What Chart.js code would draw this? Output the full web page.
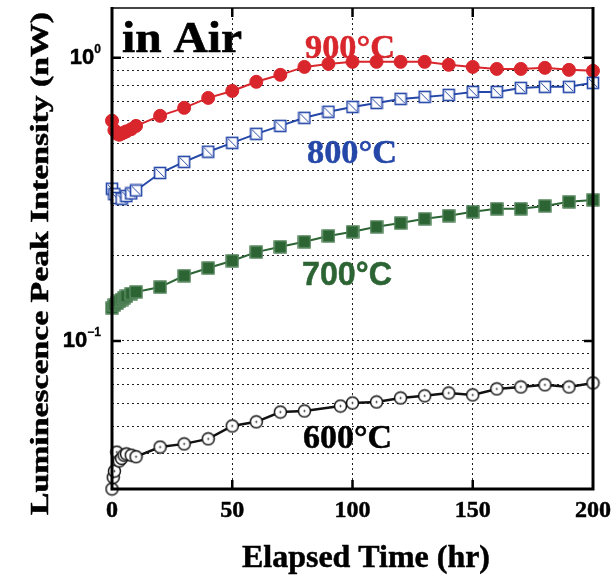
<!DOCTYPE html>
<html lang="en">
  <head>
    <meta charset="UTF-8" />
    <title>Luminescence Peak Intensity in Air</title>
    <script src="https://cdn.jsdelivr.net/npm/chart.js"></script>
    <style>
      html, body { margin: 0; padding: 0; background: #fff; }
    </style>
  </head>
  <body>
    <canvas id="lumChart" width="616" height="579"></canvas>

    <script>
      // data (hours, nW)
      const hours900 = [0, 1, 2, 3, 4, 5, 6, 8, 10, 20, 30, 40, 50, 60, 70, 80, 90, 100, 110, 120, 130, 140, 150, 160, 170, 180, 190, 200];
      const values900 = [0.60, 0.555, 0.54, 0.535, 0.54, 0.545, 0.55, 0.56, 0.575, 0.624, 0.666, 0.722, 0.764, 0.823, 0.871, 0.929, 0.952, 0.968, 0.968, 0.968, 0.968, 0.945, 0.929, 0.914, 0.914, 0.922, 0.907, 0.90];

      const hours800 = [0, 1, 2, 4, 6, 8, 10, 20, 30, 40, 50, 60, 70, 80, 90, 100, 110, 120, 130, 140, 150, 160, 170, 180, 190, 200];
      const values800 = [0.345, 0.33, 0.32, 0.318, 0.325, 0.332, 0.34, 0.392, 0.429, 0.466, 0.501, 0.539, 0.575, 0.614, 0.645, 0.671, 0.693, 0.716, 0.728, 0.740, 0.758, 0.758, 0.783, 0.790, 0.790, 0.816];

      const hours700 = [0, 1, 2, 3, 4, 5, 6, 8, 10, 20, 30, 40, 50, 60, 70, 80, 90, 100, 110, 120, 130, 140, 150, 160, 170, 180, 190, 200];
      const values700 = [0.131, 0.134, 0.136, 0.138, 0.140, 0.142, 0.144, 0.147, 0.149, 0.155, 0.170, 0.181, 0.192, 0.206, 0.215, 0.224, 0.235, 0.243, 0.253, 0.261, 0.270, 0.277, 0.286, 0.293, 0.293, 0.300, 0.310, 0.315];

      const hours600 = [0, 0.5, 1, 2, 3, 4, 5, 6, 8, 10, 20, 30, 40, 50, 60, 70, 80, 95, 100, 110, 120, 130, 140, 150, 160, 170, 180, 190, 200];
      const values600 = [0.030, 0.033, 0.0347, 0.0405, 0.0377, 0.0385, 0.0395, 0.0399, 0.0395, 0.039, 0.0422, 0.0433, 0.0451, 0.0501, 0.0518, 0.0561, 0.0566, 0.0589, 0.0604, 0.0609, 0.0629, 0.0640, 0.0655, 0.0645, 0.0677, 0.0688, 0.0700, 0.0688, 0.0711];

      const xTickLabels = [0, 50, 100, 150, 200];
      const xGridValues = [50, 100, 150];
      const yGridValues = [0.04, 0.05, 0.06, 0.07, 0.08, 0.09, 0.1, 0.2, 0.3, 0.4, 0.5, 0.6, 0.7, 0.8, 0.9, 1];
      const yMajorTicks = [{ value: 1, exp: "0" }, { value: 0.1, exp: "\u22121" }];

      const RED = "#d8262c";
      const BLUE = "#2547a8";
      const GREEN = "#2c6434";
      const BLACK = "#111111";
      const SERIF = "'Liberation Serif', 'DejaVu Serif', serif";
      const SANS = "'Liberation Sans', Arial, sans-serif";

      function pairs(xs, ys) {
        return xs.map((x, i) => ({ x: x, y: ys[i] }));
      }

      // little marker images
      function squareDiag() {
        const c = document.createElement("canvas");
        c.width = 14; c.height = 14;
        const g = c.getContext("2d");
        g.fillStyle = "#fff";
        g.fillRect(1, 1, 12, 12);
        g.strokeStyle = BLUE;
        g.lineWidth = 1.6;
        g.strokeRect(1.5, 1.5, 11, 11);
        g.lineWidth = 1;
        g.beginPath();
        g.moveTo(3, 3);
        g.lineTo(11, 11);
        g.stroke();
        return c;
      }

      function squareFilled() {
        const c = document.createElement("canvas");
        c.width = 14; c.height = 14;
        const g = c.getContext("2d");
        g.fillStyle = GREEN;
        g.fillRect(0.5, 0.5, 13, 13);
        g.strokeStyle = "#6e9a74";
        g.lineWidth = 1;
        g.strokeRect(1, 1, 12, 12);
        return c;
      }

      function circleDot() {
        const c = document.createElement("canvas");
        c.width = 15; c.height = 15;
        const g = c.getContext("2d");
        g.beginPath();
        g.arc(7.5, 7.5, 6, 0, Math.PI * 2);
        g.fillStyle = "#fff";
        g.fill();
        g.strokeStyle = BLACK;
        g.lineWidth = 1.5;
        g.stroke();
        g.beginPath();
        g.arc(7.5, 7.5, 0.9, 0, Math.PI * 2);
        g.fillStyle = BLACK;
        g.fill();
        return c;
      }

      // draw text stretched to a given width
      function fitText(ctx, text, font, left, baseline, width, heavy) {
        ctx.save();
        ctx.font = font;
        const w = ctx.measureText(text).width;
        ctx.translate(left, baseline);
        ctx.scale(width / w, 1);
        ctx.textAlign = "left";
        ctx.textBaseline = "alphabetic";
        ctx.fillText(text, 0, 0);
        if (heavy) {
          ctx.strokeStyle = ctx.fillStyle;
          ctx.lineWidth = heavy;
          ctx.strokeText(text, 0, 0);
        }
        ctx.restore();
      }

      const decorPlugin = {
        id: "decor",
        afterDraw(chart) {
          const ctx = chart.ctx;
          const area = chart.chartArea;
          const xs = chart.scales.x;
          const ys = chart.scales.y;
          ctx.save();

          // frame
          ctx.strokeStyle = "#444";
          ctx.lineWidth = 2;
          ctx.beginPath();
          ctx.moveTo(area.left, area.top);
          ctx.lineTo(area.right, area.top);
          ctx.stroke();
          ctx.strokeStyle = "#000";
          ctx.lineWidth = 3;
          ctx.beginPath();
          ctx.moveTo(area.left, area.top - 1);
          ctx.lineTo(area.left, area.bottom);
          ctx.lineTo(area.right, area.bottom);
          ctx.lineTo(area.right, area.top - 1);
          ctx.stroke();

          // inner tick marks
          ctx.lineWidth = 2.5;
          xGridValues.forEach((v) => {
            const px = xs.getPixelForValue(v);
            ctx.beginPath();
            ctx.moveTo(px, area.bottom);
            ctx.lineTo(px, area.bottom - 9);
            ctx.moveTo(px, area.top);
            ctx.lineTo(px, area.top + 9);
            ctx.stroke();
          });
          yMajorTicks.forEach((t) => {
            const py = ys.getPixelForValue(t.value);
            ctx.beginPath();
            ctx.moveTo(area.left, py);
            ctx.lineTo(area.left + 9, py);
            ctx.moveTo(area.right, py);
            ctx.lineTo(area.right - 9, py);
            ctx.stroke();
          });

          // x tick labels
          ctx.fillStyle = "#000";
          const xFont = "bold 24px " + SERIF;
          ctx.font = xFont;
          xTickLabels.forEach((v) => {
            const label = String(v);
            const w = ctx.measureText(label).width;
            fitText(ctx, label, xFont, xs.getPixelForValue(v) - w / 2, area.bottom + 28, w, 0.5);
          });

          // y tick labels 10^n
          const baseFont = "bold 22px " + SANS;
          const expFont = "bold 12px " + SANS;
          yMajorTicks.forEach((t) => {
            const py = ys.getPixelForValue(t.value);
            ctx.font = baseFont;
            const wBase = ctx.measureText("10").width;
            ctx.font = expFont;
            const wExp = ctx.measureText(t.exp).width;
            const start = 101 - wBase - wExp;
            fitText(ctx, "10", baseFont, start, py + 6, wBase, 0.5);
            fitText(ctx, t.exp, expFont, start + wBase, py - 5, wExp, 0.3);
          });

          // axis titles
          fitText(ctx, "Elapsed Time (hr)", "bold 32px " + SERIF, 242, 567, 248, 0.5);

          ctx.save();
          ctx.translate(48, 515);
          ctx.rotate(-Math.PI / 2);
          fitText(ctx, "Luminescence Peak Intensity (nW)", "bold 26px " + SERIF, 0, 0, 503, 0.5);
          ctx.restore();

          // in-plot labels
          ctx.fillStyle = "#000";
          fitText(ctx, "in Air", "bold 44px " + SERIF, 122, 52, 120, 0.6);

          const lblFont = "bold 34px " + SERIF;
          ctx.fillStyle = RED;
          fitText(ctx, "900\u00b0C", lblFont, 305, 58, 90, 0.5);
          ctx.fillStyle = BLUE;
          fitText(ctx, "800\u00b0C", lblFont, 307, 163, 90, 0.5);
          ctx.fillStyle = "#000";
          fitText(ctx, "600\u00b0C", lblFont, 303, 448, 89, 0.5);
          ctx.fillStyle = GREEN;
          fitText(ctx, "700\u00b0C", "bold 33px " + SANS, 302, 285, 90, 0.5);

          ctx.restore();
        },
      };

      const ctx = document.getElementById("lumChart").getContext("2d");
      const lumChart = new Chart(ctx, {
        type: "line",
        data: {
          datasets: [
            {
              label: "600\u00b0C",
              data: pairs(hours600, values600),
              borderColor: BLACK,
              borderWidth: 2.5,
              pointStyle: circleDot(),
              clip: false,
            },
            {
              label: "700\u00b0C",
              data: pairs(hours700, values700),
              borderColor: GREEN,
              borderWidth: 2,
              pointStyle: squareFilled(),
              clip: false,
            },
            {
              label: "800\u00b0C",
              data: pairs(hours800, values800),
              borderColor: BLUE,
              borderWidth: 2,
              pointStyle: squareDiag(),
              clip: false,
            },
            {
              label: "900\u00b0C",
              data: pairs(hours900, values900),
              borderColor: RED,
              backgroundColor: RED,
              borderWidth: 2,
              pointStyle: "circle",
              pointRadius: 6.5,
              pointBorderWidth: 1,
              clip: false,
            },
          ],
        },
        options: {
          responsive: false,
          animation: false,
          layout: { padding: { left: 112, top: 8, right: 23, bottom: 90 } },
          plugins: { legend: { display: false }, tooltip: { enabled: false } },
          elements: { line: { tension: 0 } },
          scales: {
            x: {
              type: "linear",
              min: 0,
              max: 200,
              afterBuildTicks: (s) => { s.ticks = xGridValues.map((v) => ({ value: v })); },
              afterFit: (s) => { s.height = 0; },
              ticks: { display: false },
              grid: { color: "#222", lineWidth: 1, drawTicks: false },
              border: { display: false, dash: [2, 3] },
            },
            y: {
              type: "logarithmic",
              min: 0.03,
              max: 1.5,
              afterBuildTicks: (s) => { s.ticks = yGridValues.map((v) => ({ value: v })); },
              afterFit: (s) => { s.width = 0; },
              ticks: { display: false },
              grid: { color: "#222", lineWidth: 1, drawTicks: false },
              border: { display: false, dash: [2, 3] },
            },
          },
        },
        plugins: [decorPlugin],
      });
    </script>
  </body>
</html>
